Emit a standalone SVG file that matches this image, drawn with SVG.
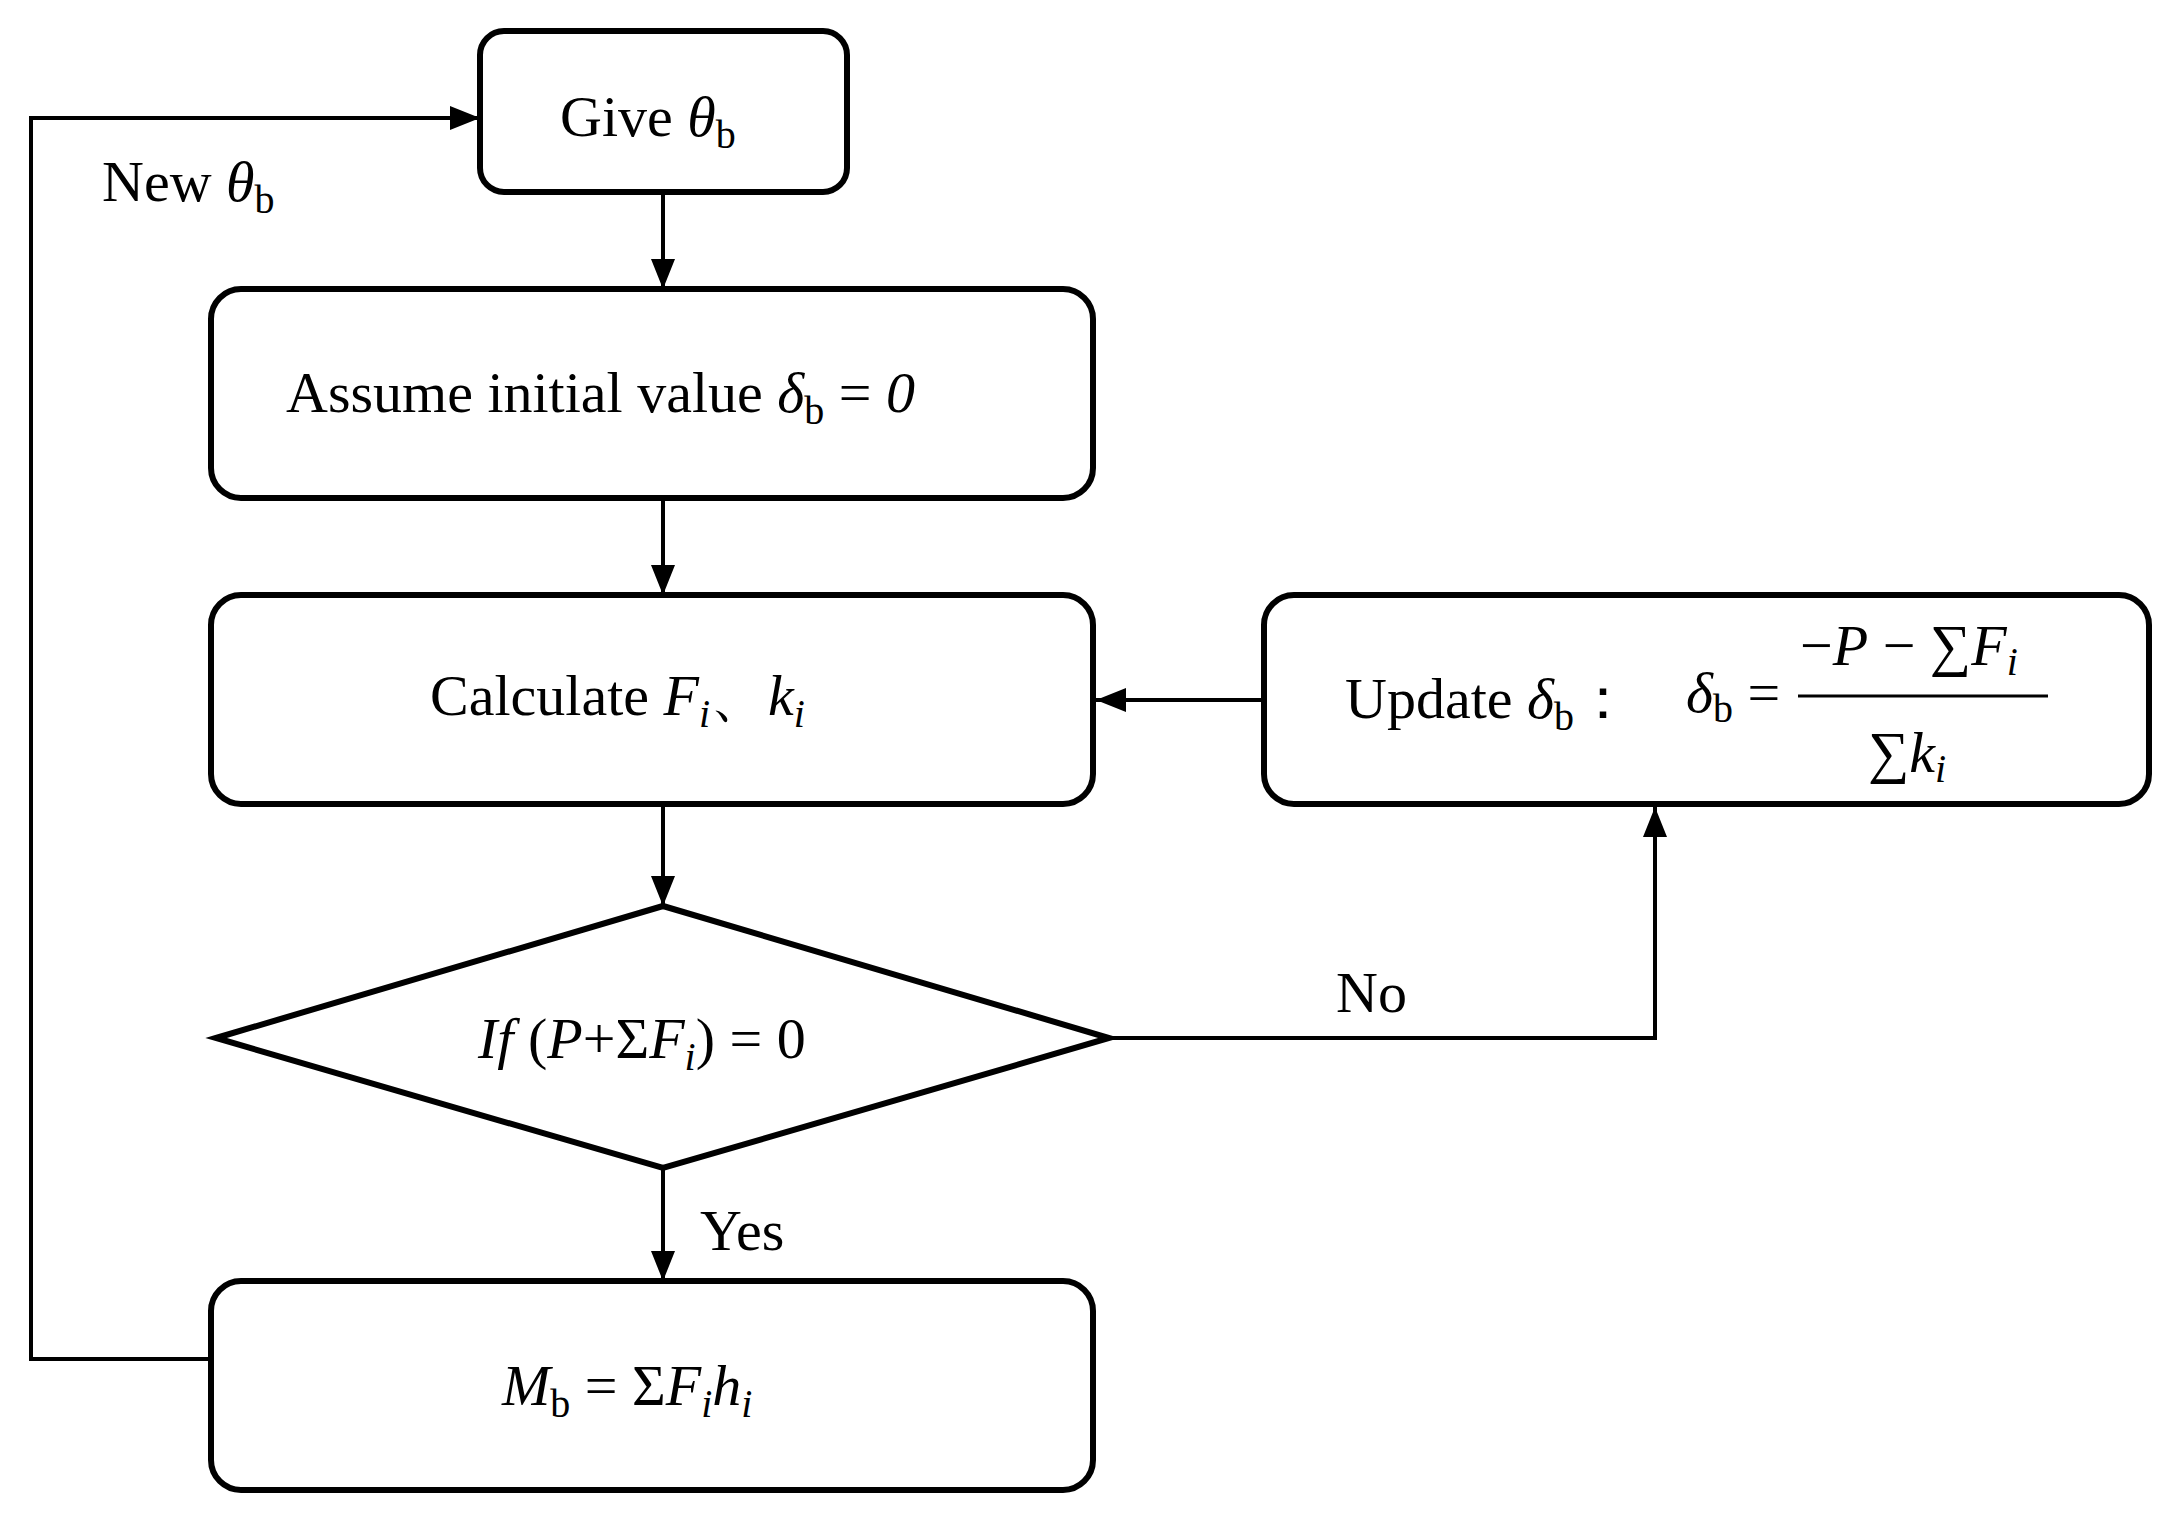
<svg xmlns="http://www.w3.org/2000/svg" width="2181" height="1521" viewBox="0 0 2181 1521">
<style>
.b{fill:#fff;stroke:#000;stroke-width:6}
.c{fill:none;stroke:#000;stroke-width:4}
text{font-family:"Liberation Serif",serif;font-size:58px;fill:#000}
.i{font-style:italic}
.s{font-size:40px}
</style>
<defs><marker id="a" markerWidth="12" markerHeight="10" refX="12" refY="5" orient="auto" markerUnits="userSpaceOnUse" viewBox="0 0 12 10"><path d="M0,0L12,5L0,10z"/></marker>
<marker id="A" viewBox="0 0 30 24" refX="30" refY="12" markerWidth="30" markerHeight="24" orient="auto" markerUnits="userSpaceOnUse"><path d="M0,0L30,12L0,24z"/></marker></defs>
<rect width="2181" height="1521" fill="#fff"/>
<g id="connectors" class="c">
<path d="M663,192V289" marker-end="url(#A)"/>
<path d="M663,498V595" marker-end="url(#A)"/>
<path d="M663,804V906" marker-end="url(#A)"/>
<path d="M663,1168V1281" marker-end="url(#A)"/>
<path d="M1264,700H1096" marker-end="url(#A)"/>
<path d="M1109,1038H1655V807" marker-end="url(#A)"/>
<path d="M211,1359H31V118H480" marker-end="url(#A)"/>
</g>
<g id="give"><rect class="b" x="480" y="31" width="367" height="161" rx="24"/>
<text x="560" y="136">Give <tspan class="i">θ</tspan><tspan class="s" dy="12">b</tspan></text></g>
<g id="assume"><rect class="b" x="211" y="289" width="882" height="209" rx="30"/>
<text x="286" y="412">Assume initial value <tspan class="i">δ</tspan><tspan class="s" dy="12">b</tspan><tspan dy="-12"> = </tspan><tspan class="i">0</tspan></text></g>
<g id="calc"><rect class="b" x="211" y="595" width="882" height="209" rx="30"/>
<text x="430" y="715">Calculate <tspan class="i">F</tspan><tspan class="s i" dy="12">i</tspan><tspan dy="-12">、</tspan><tspan class="i">k</tspan><tspan class="s i" dy="12">i</tspan></text></g>
<g id="update"><rect class="b" x="1264" y="595" width="885" height="209" rx="30"/>
<text x="1345" y="718">Update <tspan class="i">δ</tspan><tspan class="s" dy="12">b</tspan><tspan dy="-12">：</tspan></text>
<text x="1686" y="712" font-size="50"><tspan class="i">δ</tspan><tspan class="s" dy="10">b</tspan><tspan dy="-10"> =</tspan></text>
<text x="1800" y="665" font-size="50">−<tspan class="i">P</tspan> − ∑<tspan class="i">F</tspan><tspan class="s i" dy="10">i</tspan></text>
<line x1="1798" y1="696" x2="2048" y2="696" stroke="#000" stroke-width="3"/>
<text x="1868" y="772" font-size="50">∑<tspan class="i">k</tspan><tspan class="s i" dy="10">i</tspan></text></g>
<g id="decision"><path class="b" d="M216,1038L663,906L1109,1038L663,1168z"/>
<text x="478" y="1058"><tspan class="i">If</tspan> (<tspan class="i">P</tspan>+Σ<tspan class="i">F</tspan><tspan class="s i" dy="12">i</tspan><tspan dy="-12">) = 0</tspan></text></g>
<g id="moment"><rect class="b" x="211" y="1281" width="882" height="209" rx="30"/>
<text x="502" y="1405"><tspan class="i">M</tspan><tspan class="s" dy="12">b</tspan><tspan dy="-12"> = Σ</tspan><tspan class="i">F</tspan><tspan class="s i" dy="12">i</tspan><tspan class="i" dy="-12">h</tspan><tspan class="s i" dy="12">i</tspan></text></g>
<g id="labels">
<text x="1336" y="1012">No</text>
<text x="700" y="1250">Yes</text>
<text x="102" y="201">New <tspan class="i">θ</tspan><tspan class="s" dy="12">b</tspan></text>
</g>
</svg>
